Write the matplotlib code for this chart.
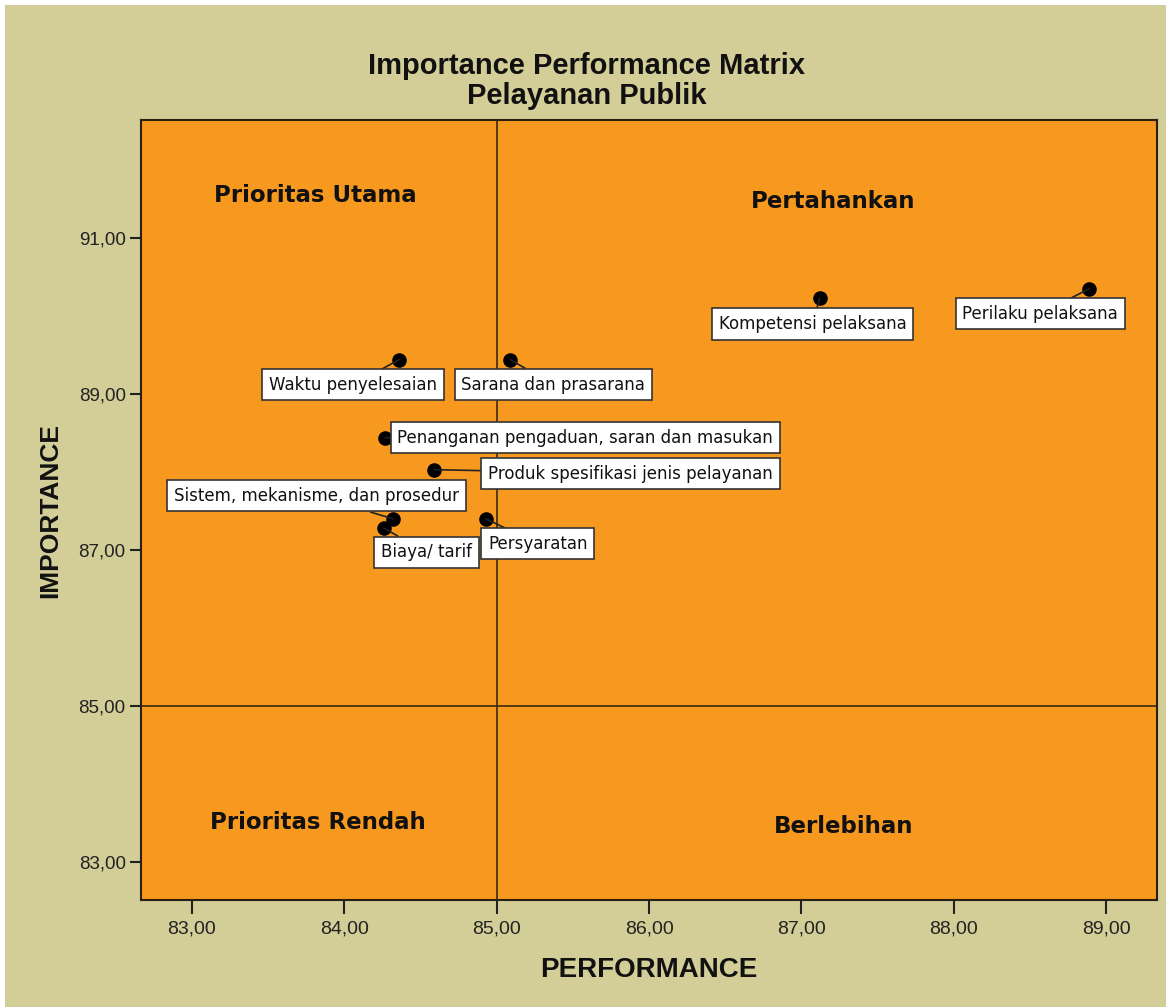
import matplotlib.pyplot as plt
from matplotlib.patches import Rectangle
from matplotlib.ticker import FuncFormatter

labels = ['Perilaku pelaksana', 'Kompetensi pelaksana', 'Waktu penyelesaian',
          'Sarana dan prasarana', 'Penanganan pengaduan, saran dan masukan',
          'Produk spesifikasi jenis pelayanan', 'Sistem, mekanisme, dan prosedur',
          'Biaya/ tarif', 'Persyaratan']
performance = [88.89, 87.12, 84.36, 85.09, 84.27, 84.59, 84.32, 84.26, 84.93]
importance = [90.35, 90.23, 89.44, 89.44, 88.44, 88.03, 87.40, 87.28, 87.40]

# label position relative to point, in pixels: left edge of text, vertical centre
offsets = [(-127, -25), (-101, -26), (-130, -25), (-49, -25), (12, 0),
           (54, -4), (-219, 23), (-3, -24), (2, -25)]

x_ticks = [83, 84, 85, 86, 87, 88, 89]
y_ticks = [83, 85, 87, 89, 91]
cut_x = 85.0
cut_y = 85.0

quadrants = ['Prioritas Utama', 'Pertahankan', 'Prioritas Rendah', 'Berlebihan']
quad_x = [83.81, 87.21, 83.83, 87.28]
quad_y = [91.54, 91.47, 83.51, 83.46]

khaki = '#d3cd98'
orange = '#f8991f'
arial = ['Liberation Sans', 'DejaVu Sans']
wide = ['DejaVu Sans']

fig = plt.figure(figsize=(11.66, 10.07), dpi=100)
fig.patch.set_facecolor('white')
fig.patches.append(Rectangle((5 / 1166, 0), 1, 1 - 5 / 1007, transform=fig.transFigure,
                             facecolor=khaki, edgecolor='none', zorder=-10))

ax = fig.add_axes([141 / 1166, 107 / 1007, 1016 / 1166, 780 / 1007])
ax.set_facecolor(orange)
ax.set_xlim(82.666, 89.334)
ax.set_ylim(82.513, 92.513)

ax.axvline(cut_x, color='#3a2a10', lw=1.2, zorder=1)
ax.axhline(cut_y, color='#3a2a10', lw=1.2, zorder=1)

ax.scatter(performance, importance, s=90, color='black', zorder=3)

for lab, px, py, (dx, dy) in zip(labels, performance, importance, offsets):
    ax.annotate(lab, xy=(px, py), xytext=(dx, dy), textcoords='offset pixels',
                ha='left', va='center', fontsize=12, family=wide, color='#111111',
                bbox=dict(boxstyle='square,pad=0.4', fc='white', ec='#333333', lw=1.2),
                arrowprops=dict(arrowstyle='-', color='#222222', lw=1.2,
                                shrinkA=0, shrinkB=0),
                zorder=4)

for q, qx, qy in zip(quadrants, quad_x, quad_y):
    ax.text(qx, qy, q, ha='center', va='center', fontsize=16.5, fontweight='bold',
            family=wide, color='#111111')

ax.set_xticks(x_ticks)
ax.set_yticks(y_ticks)
fmt = FuncFormatter(lambda v, p: f'{v:.2f}'.replace('.', ','))
ax.xaxis.set_major_formatter(fmt)
ax.yaxis.set_major_formatter(fmt)
ax.tick_params(axis='x', direction='out', length=10, width=1.5, pad=5,
               labelsize=14, colors='#222222')
ax.tick_params(axis='y', direction='out', length=8, width=1.5, pad=3,
               labelsize=13.5, colors='#222222')
for t in ax.get_xticklabels() + ax.get_yticklabels():
    t.set_family(arial)
for s in ax.spines.values():
    s.set_color('#2a2010')
    s.set_linewidth(1.5)

ax.set_xlabel('PERFORMANCE', fontsize=20, fontweight='bold', family=arial,
              color='#111111', labelpad=14)
ax.set_ylabel('IMPORTANCE', fontsize=19, fontweight='bold', family=arial,
              color='#111111', labelpad=12)

fig.text(587 / 1166, 1 - 66 / 1007, 'Importance Performance Matrix',
         ha='center', va='center', fontsize=21, fontweight='bold', family=arial,
         color='#111111')
fig.text(587 / 1166, 1 - 96 / 1007, 'Pelayanan Publik',
         ha='center', va='center', fontsize=21, fontweight='bold', family=arial,
         color='#111111')

fig.savefig('out.png', dpi=100, facecolor=fig.get_facecolor())
